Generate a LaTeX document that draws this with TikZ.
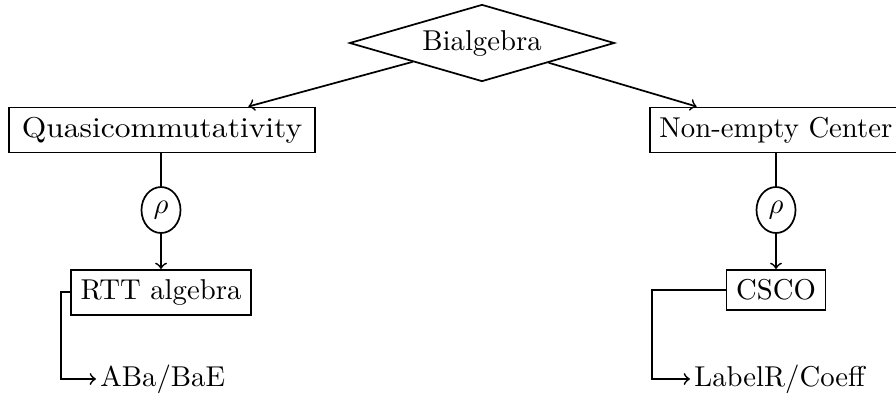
\documentclass[tikz,border=0pt]{standalone}
\usepackage{graphicx}
\usetikzlibrary{shapes.geometric}
\begin{document}
\begin{tikzpicture}[x=0.3484pt,y=-0.3484pt,
  every path/.style={line width=0.6pt},
  box/.style={draw,line width=0.6pt,rectangle,inner sep=3.33pt},
  rhonode/.style={draw,line width=0.6pt,ellipse,inner sep=0pt,minimum width=39*0.3484pt,minimum height=46*0.3484pt},
  leaf/.style={inner sep=1.2pt},
  arr/.style={->}]
\useasboundingbox (0,0) rectangle (896,394);
\node[draw,diamond,aspect=3.44,inner sep=0pt,minimum width=265*0.3484pt,minimum height=77*0.3484pt,line width=0.6pt] (bial) at (482,43) {Bialgebra};
\node[box,minimum width=306*0.3484pt] (quasi) at (162,130) {\scalebox{1.098}[1]{Quasicommutativity}};
\node[box,anchor=west] (nonempty) at (649,130) {Non-empty Center};
\node[rhonode] (rho1) at (161,210) {$\rho$};
\node[rhonode] (rho2) at (776,210) {$\rho$};
\node[box,anchor=north] (rtt) at (161,269) {RTT algebra};
\node[box,anchor=north] (csco) at (776,269) {CSCO};
\node[leaf,anchor=west] (aba) at (96,379) {ABa/BaE};
\node[leaf,anchor=west] (lab) at (690,379) {LabelR/Coeff};
\coordinate (c1) at (61,379);
\coordinate (c2) at (652,379);
\draw[arr] (bial) -- (quasi);
\draw[arr] (bial) -- (nonempty);
\draw (rho1 |- quasi.south) -- (rho1);
\draw[arr] (rho1) -- (rtt);
\draw (rho2 |- nonempty.south) -- (rho2);
\draw[arr] (rho2) -- (csco);
\draw[arr] (rtt.west) -| (c1) -- (aba);
\draw[arr] (csco.west) -| (c2) -- (lab);
\end{tikzpicture}
\end{document}
